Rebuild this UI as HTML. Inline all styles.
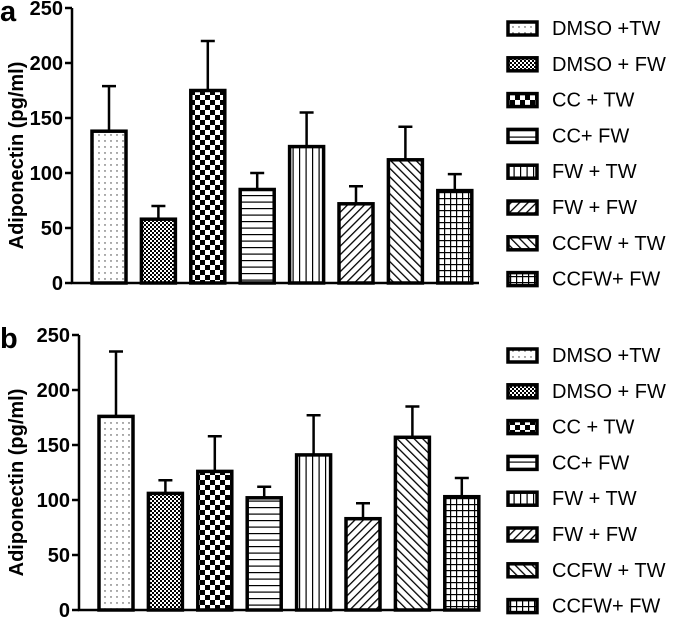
<!DOCTYPE html>
<html><head><meta charset="utf-8"><style>
html,body{margin:0;padding:0;background:#fff}
svg text{font-family:"Liberation Sans",Arial,sans-serif}
</style></head><body>
<svg id="fig" width="685" height="623" viewBox="0 0 685 623">
<defs>
<pattern id="p0" width="6" height="6" patternUnits="userSpaceOnUse"><rect width="6" height="6" fill="#fff"/><circle cx="3" cy="3" r="0.7" fill="#333"/></pattern>
<pattern id="p1" width="4" height="4" patternUnits="userSpaceOnUse"><rect width="4" height="4" fill="#fff"/><rect width="2" height="2" fill="#000"/><rect x="2" y="2" width="2" height="2" fill="#000"/></pattern>
<pattern id="p2" width="10" height="10" patternUnits="userSpaceOnUse"><rect width="10" height="10" fill="#fff"/><rect width="5" height="5" fill="#000"/><rect x="5" y="5" width="5" height="5" fill="#000"/></pattern>
<pattern id="p3" width="10" height="6.5" patternUnits="userSpaceOnUse"><rect width="10" height="6.5" fill="#fff"/><rect y="0" width="10" height="1.2" fill="#000"/></pattern>
<pattern id="p4" width="6.5" height="10" patternUnits="userSpaceOnUse"><rect width="6.5" height="10" fill="#fff"/><rect x="0" width="1.2" height="10" fill="#000"/></pattern>
<pattern id="p5" width="6" height="6" patternUnits="userSpaceOnUse" patternTransform="rotate(45)"><rect width="6" height="6" fill="#fff"/><rect width="1.3" height="6" fill="#000"/></pattern>
<pattern id="p6" width="6" height="6" patternUnits="userSpaceOnUse" patternTransform="rotate(-45)"><rect width="6" height="6" fill="#fff"/><rect width="1.3" height="6" fill="#000"/></pattern>
<pattern id="p7" width="6" height="6" patternUnits="userSpaceOnUse"><rect width="6" height="6" fill="#fff"/><rect width="6" height="1.2" fill="#000"/><rect width="1.2" height="6" fill="#000"/></pattern>
</defs>
</svg>
<script>
const categories = ["DMSO +TW","DMSO + FW","CC + TW","CC+ FW","FW + TW","FW + FW","CCFW + TW","CCFW+ FW"];
const meansA = [138,58,175,85,124,72,112,84];
const errA = [41,12,45,15,31,16,30,15];
const meansB = [176,106,126,102,141,83,157,103];
const errB = [59,12,32,10,36,14,28,17];
const yTicks = [0,50,100,150,200,250];
const NS = "http://www.w3.org/2000/svg";
const svg = document.getElementById("fig");
function mk(tag, attrs, parent){const e=document.createElementNS(NS,tag);for(const k in attrs)e.setAttribute(k,attrs[k]);(parent||svg).appendChild(e);return e;}
function panel(letter, ax, yTop, y0, means, errs, legTop){
  const g = mk("g",{});
  
  
  const yS = v => y0 - v/250*(y0-yTop);
  const firstX = ax+20, step = 49.4, bw = 34;
  const xS = i => firstX + i*step;
  const lt = mk("text",{x:0,y:yTop+13,"font-size":29,"font-weight":"bold"},g); lt.textContent=letter;
  
  
  means.forEach((m,i)=>{
    const x=xS(i)+bw/2, top=yS(m+errs[i]);
    const eb=mk("path",{d:`M${x} ${yS(m)}V${top}M${x-7} ${top}H${x+7}`,stroke:"#000","stroke-width":2.5,fill:"none"},g);
    
    
    const r=mk("rect",{x:xS(i),y:yS(m),width:bw,height:y0-yS(m),fill:`url(#p${i})`,stroke:"#000","stroke-width":3.5},g);
    
    
  });
  const axis=mk("path",{d:`M${ax} ${yTop}V${y0}H479`,stroke:"#000","stroke-width":2.5,fill:"none"},g);
  
  
  yTicks.forEach(t=>{
    mk("path",{d:`M${ax-7} ${yS(t)}H${ax}`,stroke:"#000","stroke-width":2.5},g);
    const tx=mk("text",{x:ax-9,y:yS(t)+7,"font-size":20,"font-weight":"bold","text-anchor":"end"},g);
    tx.textContent=t;
    
    
  });
  const yc=(yTop+y0)/2+10;
  const yt=mk("text",{x:0,y:0,"font-size":20,"font-weight":"bold","text-anchor":"middle",transform:`translate(23 ${yc}) rotate(-90)`},g);
  yt.textContent="Adiponectin (pg/ml)";
  
  
  categories.forEach((c,i)=>{
    const y=legTop+i*35.8;
    const sw=mk("rect",{x:508,y:y-6,width:29,height:13,fill:`url(#p${i})`,stroke:"#000","stroke-width":3.5},g);
    
    
    const lt2=mk("text",{x:552,y:y+7,"font-size":20},g);
    lt2.textContent=c;
    
    
  });
}
panel("a",72,8,283,meansA,errA,28);
panel("b",79,335,610,meansB,errB,355);
</script>
</body></html>
